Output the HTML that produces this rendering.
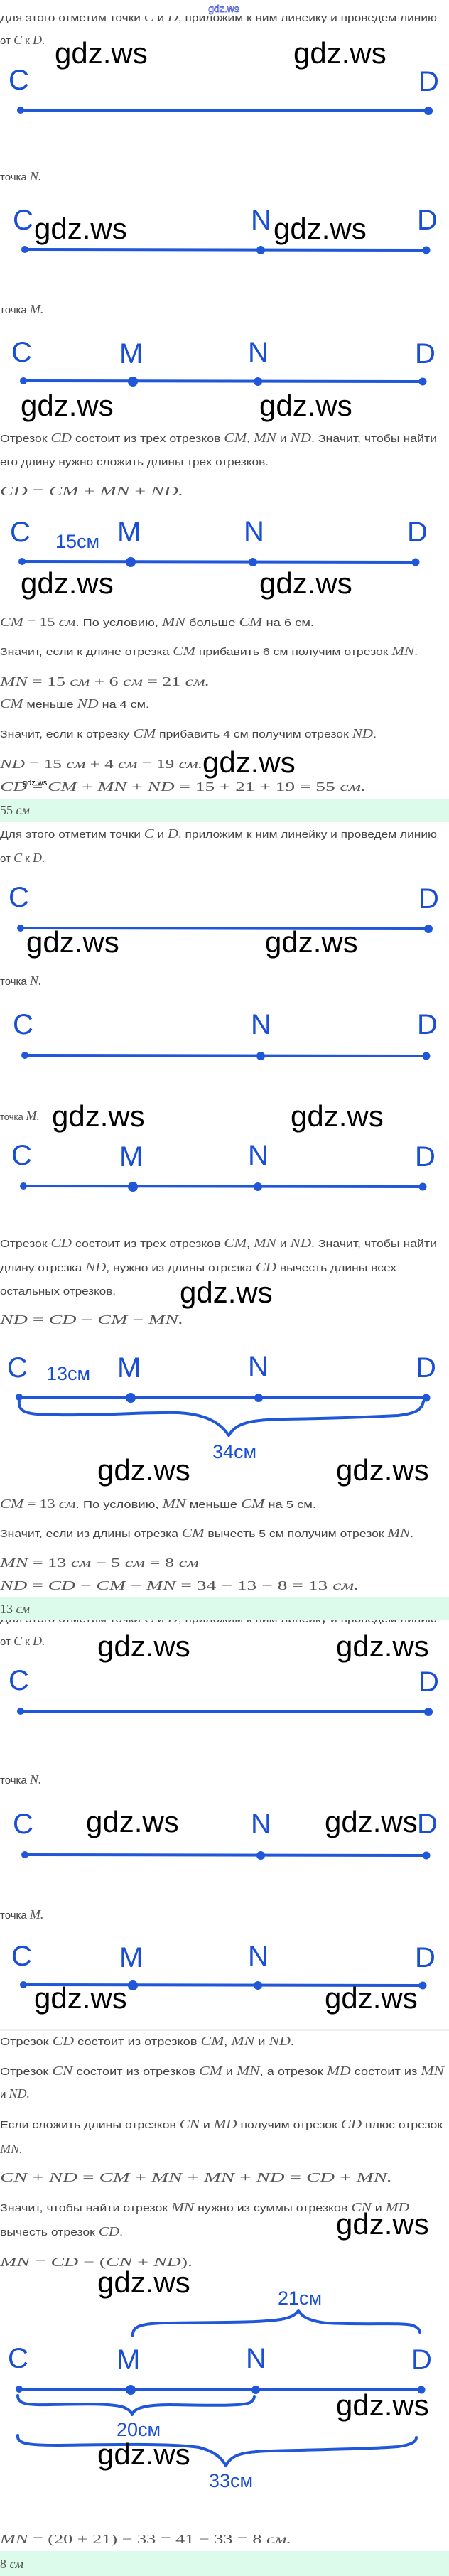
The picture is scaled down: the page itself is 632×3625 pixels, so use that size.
<!DOCTYPE html>
<html><head><meta charset="utf-8"><style>
html,body{margin:0;padding:0;background:#fff;}
svg{display:block;}
.t{font-family:"Liberation Sans",sans-serif;font-size:15px;fill:#444;}
.m{font-family:"Liberation Serif",serif;font-style:italic;font-size:18px;fill:#555;}
.n{font-family:"Liberation Serif",serif;font-style:normal;}
.w{font-family:"Liberation Sans",sans-serif;font-size:42px;fill:#000;}
.L{font-family:"Liberation Sans",sans-serif;font-size:40px;fill:#1a4fd3;}
.s{font-family:"Liberation Sans",sans-serif;font-size:27px;fill:#1a4fd3;}
.ln{stroke:#1f57d8;stroke-width:4;}
.br{stroke:#1f57d8;stroke-width:4;fill:none;stroke-linecap:round;stroke-linejoin:round;}
.d{fill:#1f57d8;}
</style></head><body>
<svg width="632" height="3625" viewBox="0 0 632 3625" xmlns="http://www.w3.org/2000/svg">
<!-- top -->
<text class="t" x="0" y="30" textLength="615" lengthAdjust="spacingAndGlyphs">Для этого отметим точки <tspan class="m">C</tspan> и <tspan class="m">D</tspan>, приложим к ним линейку и проведем линию</text>
<rect x="0" y="0" width="632" height="22" fill="#fff"/>
<text x="315" y="17" text-anchor="middle" font-family="Liberation Sans,sans-serif" font-size="14" fill="#fff" stroke="#3344dd" stroke-width="0.7">gdz.ws</text>
<text class="t" x="0" y="62">от <tspan class="m">C</tspan> к <tspan class="m">D.</tspan></text>
<text class="w" x="77" y="89">gdz.ws</text><text class="w" x="413" y="89">gdz.ws</text>
<text class="L" x="12" y="126">C</text><text class="L" x="589" y="128">D</text>
<line class="ln" x1="29" y1="155" x2="603" y2="156"/><circle class="d" cx="29" cy="155" r="5"/><circle class="d" cx="603" cy="156" r="6"/>

<text class="t" x="0" y="254">точка <tspan class="m">N.</tspan></text>
<text class="L" x="18" y="323">C</text><text class="L" x="353" y="323">N</text><text class="L" x="587" y="323">D</text>
<text class="w" x="48" y="336">gdz.ws</text><text class="w" x="385" y="336">gdz.ws</text>
<line class="ln" x1="35" y1="351" x2="600" y2="352"/><circle class="d" cx="35" cy="351" r="5"/><circle class="d" cx="367" cy="352" r="6"/><circle class="d" cx="600" cy="352" r="5.5"/>

<text class="t" x="0" y="441">точка <tspan class="m">M.</tspan></text>
<text class="L" x="16" y="509">C</text><text class="L" x="168" y="511">M</text><text class="L" x="349" y="509">N</text><text class="L" x="584" y="511">D</text>
<line class="ln" x1="33" y1="536" x2="595" y2="537"/><circle class="d" cx="33" cy="536" r="5"/><circle class="d" cx="187" cy="537" r="7"/><circle class="d" cx="363" cy="537" r="6"/><circle class="d" cx="595" cy="537" r="5.5"/>
<text class="w" x="29" y="585">gdz.ws</text><text class="w" x="365" y="585">gdz.ws</text>

<text class="t" x="0" y="622" textLength="615" lengthAdjust="spacingAndGlyphs">Отрезок <tspan class="m">CD</tspan> состоит из трех отрезков <tspan class="m">CM</tspan>, <tspan class="m">MN</tspan> и <tspan class="m">ND</tspan>. Значит, чтобы найти</text>
<text class="t" x="0" y="655" textLength="378" lengthAdjust="spacingAndGlyphs">его длину нужно сложить длины трех отрезков.</text>
<text class="m" x="0" y="697" textLength="258" lengthAdjust="spacingAndGlyphs">CD <tspan class="n">=</tspan> CM <tspan class="n">+</tspan> MN <tspan class="n">+</tspan> ND.</text>

<text class="L" x="14" y="762">C</text><text class="s" x="78" y="771">15см</text><text class="L" x="165" y="762">M</text><text class="L" x="343" y="761">N</text><text class="L" x="573" y="762">D</text>
<line class="ln" x1="31" y1="790" x2="585" y2="791"/><circle class="d" cx="31" cy="790" r="5"/><circle class="d" cx="184" cy="791" r="7"/><circle class="d" cx="356" cy="791" r="6"/><circle class="d" cx="585" cy="791" r="5.5"/>
<text class="w" x="29" y="835">gdz.ws</text><text class="w" x="365" y="835">gdz.ws</text>

<text class="t" x="0" y="881" textLength="442" lengthAdjust="spacingAndGlyphs"><tspan class="m">CM</tspan> <tspan class="m n">=</tspan> <tspan class="m n">15</tspan> <tspan class="m">см</tspan>. По условию, <tspan class="m">MN</tspan> больше <tspan class="m">CM</tspan> на 6 см.</text>
<text class="t" x="0" y="922" textLength="588" lengthAdjust="spacingAndGlyphs">Значит, если к длине отрезка <tspan class="m">CM</tspan> прибавить 6 см получим отрезок <tspan class="m">MN</tspan>.</text>
<text class="m" x="0" y="965" textLength="295" lengthAdjust="spacingAndGlyphs">MN <tspan class="n">=  15</tspan> см <tspan class="n"> +  6</tspan> см <tspan class="n">=  21</tspan> см.</text>
<text class="t" x="0" y="996" textLength="210" lengthAdjust="spacingAndGlyphs"><tspan class="m">CM</tspan> меньше <tspan class="m">ND</tspan> на 4 см.</text>
<text class="t" x="0" y="1038" textLength="530" lengthAdjust="spacingAndGlyphs">Значит, если к отрезку <tspan class="m">CM</tspan> прибавить 4 см получим отрезок <tspan class="m">ND</tspan>.</text>
<text class="m" x="0" y="1081" textLength="285" lengthAdjust="spacingAndGlyphs">ND <tspan class="n">=  15</tspan> см <tspan class="n"> +  4</tspan> см <tspan class="n">=  19</tspan> см.</text>
<text class="w" x="285" y="1087">gdz.ws</text>
<text class="m" x="0" y="1113" textLength="515" lengthAdjust="spacingAndGlyphs">CD <tspan class="n">=</tspan> CM <tspan class="n">+</tspan> MN <tspan class="n">+</tspan> ND <tspan class="n">=  15 + 21 + 19 =  55</tspan> см.</text>
<text x="32" y="1105" font-family="Liberation Sans,sans-serif" font-size="11" fill="#000">gdz.ws</text>
<rect x="0" y="1124" width="632" height="33" fill="#dcfbea"/>
<text class="m" x="0" y="1146"><tspan class="n">55</tspan> см</text>

<text class="t" x="0" y="1179" textLength="615" lengthAdjust="spacingAndGlyphs">Для этого отметим точки <tspan class="m">C</tspan> и <tspan class="m">D</tspan>, приложим к ним линейку и проведем линию</text>
<text class="t" x="0" y="1213">от <tspan class="m">C</tspan> к <tspan class="m">D.</tspan></text>
<text class="L" x="12" y="1276">C</text><text class="L" x="589" y="1278">D</text>
<line class="ln" x1="29" y1="1306" x2="603" y2="1307"/><circle class="d" cx="29" cy="1306" r="5"/><circle class="d" cx="603" cy="1307" r="6"/>
<text class="w" x="37" y="1340">gdz.ws</text><text class="w" x="373" y="1340">gdz.ws</text>

<text class="t" x="0" y="1386">точка <tspan class="m">N.</tspan></text>
<text class="L" x="18" y="1455">C</text><text class="L" x="353" y="1455">N</text><text class="L" x="587" y="1455">D</text>
<line class="ln" x1="35" y1="1485" x2="600" y2="1486"/><circle class="d" cx="35" cy="1485" r="5"/><circle class="d" cx="367" cy="1486" r="6"/><circle class="d" cx="600" cy="1486" r="5.5"/>

<text x="0" y="1576" font-family="Liberation Sans,sans-serif" font-size="13" fill="#444">точка <tspan class="m" font-size="16">M.</tspan></text>
<text class="w" x="73" y="1585">gdz.ws</text><text class="w" x="409" y="1585">gdz.ws</text>
<text class="L" x="16" y="1639">C</text><text class="L" x="168" y="1641">M</text><text class="L" x="349" y="1639">N</text><text class="L" x="584" y="1641">D</text>
<line class="ln" x1="33" y1="1669" x2="595" y2="1670"/><circle class="d" cx="33" cy="1669" r="5"/><circle class="d" cx="187" cy="1670" r="7"/><circle class="d" cx="363" cy="1670" r="6"/><circle class="d" cx="595" cy="1670" r="5.5"/>

<text class="t" x="0" y="1755" textLength="615" lengthAdjust="spacingAndGlyphs">Отрезок <tspan class="m">CD</tspan> состоит из трех отрезков <tspan class="m">CM</tspan>, <tspan class="m">MN</tspan> и <tspan class="m">ND</tspan>. Значит, чтобы найти</text>
<text class="t" x="0" y="1789" textLength="558" lengthAdjust="spacingAndGlyphs">длину отрезка <tspan class="m">ND</tspan>, нужно из длины отрезка <tspan class="m">CD</tspan> вычесть длины всех</text>
<text class="t" x="0" y="1822" textLength="163" lengthAdjust="spacingAndGlyphs">остальных отрезков.</text>
<text class="w" x="253" y="1833">gdz.ws</text>
<text class="m" x="0" y="1863" textLength="258" lengthAdjust="spacingAndGlyphs">ND <tspan class="n">=</tspan> CD <tspan class="n">−</tspan> CM <tspan class="n">−</tspan> MN.</text>

<text class="L" x="10" y="1938">C</text><text class="s" x="65" y="1942">13см</text><text class="L" x="165" y="1938">M</text><text class="L" x="349" y="1936">N</text><text class="L" x="585" y="1938">D</text>
<line class="ln" x1="27" y1="1966" x2="600" y2="1967"/><circle class="d" cx="27" cy="1966" r="5"/><circle class="d" cx="184" cy="1967" r="7"/><circle class="d" cx="364" cy="1967" r="6"/><circle class="d" cx="600" cy="1967" r="5.5"/>
<path class="br" d="M27 1972 C25 1988 40 1991 80 1991 C150 1992 200 1987 250 1988 C290 1990 310 2002 322 2020 C332 2003 350 1998 400 1997 C470 1996 520 1994 560 1992 C585 1989 594 1984 596 1972"/>
<text class="s" x="330" y="2052" text-anchor="middle">34см</text>
<text class="w" x="137" y="2083">gdz.ws</text><text class="w" x="473" y="2083">gdz.ws</text>

<text class="t" x="0" y="2122" textLength="445" lengthAdjust="spacingAndGlyphs"><tspan class="m">CM</tspan> <tspan class="m n">=</tspan> <tspan class="m n">13</tspan> <tspan class="m">см</tspan>. По условию, <tspan class="m">MN</tspan> меньше <tspan class="m">CM</tspan> на 5 см.</text>
<text class="t" x="0" y="2163" textLength="582" lengthAdjust="spacingAndGlyphs">Значит, если из длины отрезка <tspan class="m">CM</tspan> вычесть 5 см получим отрезок <tspan class="m">MN</tspan>.</text>
<text class="m" x="0" y="2205" textLength="280" lengthAdjust="spacingAndGlyphs">MN <tspan class="n">=  13</tspan> см <tspan class="n"> −  5</tspan> см <tspan class="n">=  8</tspan> см</text>
<text class="m" x="0" y="2237" textLength="505" lengthAdjust="spacingAndGlyphs">ND <tspan class="n">=</tspan> CD <tspan class="n">−</tspan> CM <tspan class="n">−</tspan> MN <tspan class="n">=  34 − 13 − 8 =  13</tspan> см.</text>
<text class="t" x="0" y="2283" textLength="615" lengthAdjust="spacingAndGlyphs">Для этого отметим точки <tspan class="m">C</tspan> и <tspan class="m">D</tspan>, приложим к ним линейку и проведем линию</text>
<rect x="0" y="2247" width="632" height="33" fill="#dcfbea"/>
<text class="m" x="0" y="2270"><tspan class="n">13</tspan> см</text>
<text class="t" x="0" y="2315">от <tspan class="m">C</tspan> к <tspan class="m">D.</tspan></text>
<text class="w" x="137" y="2331">gdz.ws</text><text class="w" x="473" y="2331">gdz.ws</text>
<text class="L" x="12" y="2378">C</text><text class="L" x="589" y="2380">D</text>
<line class="ln" x1="29" y1="2408" x2="603" y2="2409"/><circle class="d" cx="29" cy="2408" r="5"/><circle class="d" cx="603" cy="2409" r="6"/>

<text class="t" x="0" y="2510">точка <tspan class="m">N.</tspan></text>
<text class="L" x="18" y="2580">C</text><text class="L" x="353" y="2580">N</text><text class="L" x="587" y="2580">D</text>
<text class="w" x="121" y="2578">gdz.ws</text><text class="w" x="457" y="2578">gdz.ws</text>
<line class="ln" x1="35" y1="2610" x2="600" y2="2611"/><circle class="d" cx="35" cy="2610" r="5"/><circle class="d" cx="367" cy="2611" r="6"/><circle class="d" cx="600" cy="2611" r="5.5"/>

<text class="t" x="0" y="2700">точка <tspan class="m">M.</tspan></text>
<text class="L" x="16" y="2766">C</text><text class="L" x="168" y="2768">M</text><text class="L" x="349" y="2766">N</text><text class="L" x="584" y="2768">D</text>
<line class="ln" x1="33" y1="2793" x2="595" y2="2794"/><circle class="d" cx="33" cy="2793" r="5"/><circle class="d" cx="187" cy="2794" r="7"/><circle class="d" cx="363" cy="2794" r="6"/><circle class="d" cx="595" cy="2794" r="5.5"/>
<text class="w" x="48" y="2826">gdz.ws</text><text class="w" x="457" y="2826">gdz.ws</text>
<rect x="0" y="2855" width="632" height="3" fill="#eee"/>

<text class="t" x="0" y="2878" textLength="414" lengthAdjust="spacingAndGlyphs">Отрезок <tspan class="m">CD</tspan> состоит из отрезков <tspan class="m">CM</tspan>, <tspan class="m">MN</tspan> и <tspan class="m">ND</tspan>.</text>
<text class="t" x="0" y="2920" textLength="625" lengthAdjust="spacingAndGlyphs">Отрезок <tspan class="m">CN</tspan> состоит из отрезков <tspan class="m">CM</tspan> и <tspan class="m">MN</tspan>, а отрезок <tspan class="m">MD</tspan> состоит из <tspan class="m">MN</tspan></text>
<text class="t" x="0" y="2952">и <tspan class="m">ND.</tspan></text>
<text class="t" x="0" y="2995" textLength="623" lengthAdjust="spacingAndGlyphs">Если сложить длины отрезков <tspan class="m">CN</tspan> и <tspan class="m">MD</tspan> получим отрезок <tspan class="m">CD</tspan> плюс отрезок</text>
<text class="m" x="0" y="3030">MN.</text>
<text class="m" x="0" y="3070" textLength="552" lengthAdjust="spacingAndGlyphs">CN <tspan class="n">+</tspan> ND <tspan class="n">=</tspan> CM <tspan class="n">+</tspan> MN <tspan class="n">+</tspan> MN <tspan class="n">+</tspan> ND <tspan class="n">=</tspan> CD <tspan class="n">+</tspan> MN.</text>
<text class="t" x="0" y="3112" textLength="576" lengthAdjust="spacingAndGlyphs">Значит, чтобы найти отрезок <tspan class="m">MN</tspan> нужно из суммы отрезков <tspan class="m">CN</tspan> и <tspan class="m">MD</tspan></text>
<text class="t" x="0" y="3146" textLength="173" lengthAdjust="spacingAndGlyphs">вычесть отрезок <tspan class="m">CD</tspan>.</text>
<text class="w" x="473" y="3144">gdz.ws</text>
<text class="m" x="0" y="3189" textLength="271" lengthAdjust="spacingAndGlyphs">MN <tspan class="n">=</tspan> CD <tspan class="n">− (</tspan>CN <tspan class="n">+</tspan> ND<tspan class="n">).</tspan></text>
<text class="w" x="137" y="3226">gdz.ws</text>
<text class="s" x="422" y="3243" text-anchor="middle">21см</text>
<path class="br" d="M187 3287 C186 3275 195 3270 230 3269 C300 3268 360 3269 395 3264 C412 3261 418 3256 420 3251 C423 3258 432 3266 460 3269 C520 3272 560 3268 580 3272 C588 3275 591 3279 591 3282"/>
<text class="L" x="11" y="3332">C</text><text class="L" x="164" y="3334">M</text><text class="L" x="346" y="3332">N</text><text class="L" x="579" y="3334">D</text>
<line class="ln" x1="27" y1="3362" x2="593" y2="3363"/><circle class="d" cx="27" cy="3362" r="5"/><circle class="d" cx="184" cy="3363" r="7"/><circle class="d" cx="360" cy="3363" r="6"/><circle class="d" cx="593" cy="3363" r="5.5"/>
<path class="br" d="M25 3371 C25 3382 35 3385 70 3384 C120 3383 160 3382 175 3388 C182 3391 185 3394 186 3398 C188 3390 200 3384 240 3384 C300 3385 340 3386 352 3381 C357 3378 358 3374 358 3372"/>
<text class="s" x="195" y="3428" text-anchor="middle">20см</text>
<text class="w" x="473" y="3399">gdz.ws</text>
<path class="br" d="M25 3427 C24 3438 35 3441 80 3441 C160 3440 240 3438 280 3444 C300 3449 312 3458 318 3470 C325 3455 340 3450 380 3449 C460 3447 520 3446 560 3443 C580 3440 586 3436 586 3430"/>
<text class="w" x="137" y="3468">gdz.ws</text>
<text class="s" x="325" y="3500" text-anchor="middle">33см</text>
<text class="m" x="0" y="3579" textLength="410" lengthAdjust="spacingAndGlyphs">MN <tspan class="n">=  (20 + 21)  −  33  =  41  −  33  =  8</tspan> см.</text>
<rect x="0" y="3590" width="632" height="35" fill="#dcfbea"/>
<text class="m" x="0" y="3614"><tspan class="n">8</tspan> см</text>
</svg>
</body></html>
